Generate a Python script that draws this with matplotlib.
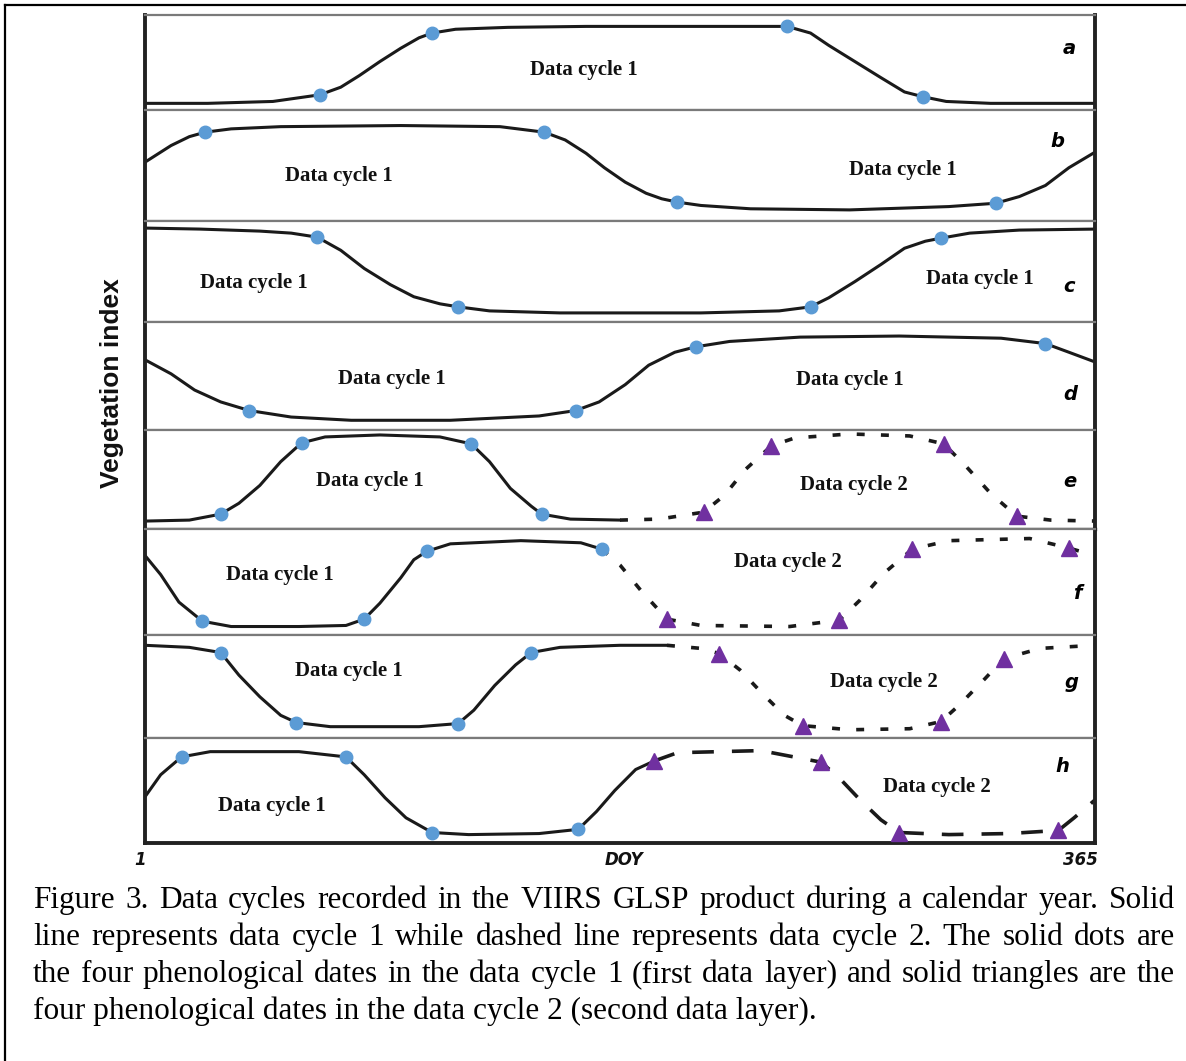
import matplotlib
matplotlib.use('Agg')
import matplotlib.pyplot as plt
from matplotlib.lines import Line2D

# ---- data: DOY vs normalised vegetation index per panel ----
doy_a1 = [1, 25, 50, 68, 76, 83, 91, 99, 106, 111, 120, 140, 170, 200, 230, 247, 256, 263, 273, 283, 292, 299, 308, 325, 365]
vi_a1 = [0.07, 0.07, 0.09, 0.16, 0.24, 0.36, 0.51, 0.65, 0.76, 0.81, 0.85, 0.87, 0.88, 0.88, 0.88, 0.88, 0.81, 0.68, 0.51, 0.34, 0.19, 0.14, 0.09, 0.07, 0.07]
dates_a1 = [68, 111, 247, 299]
dvi_a1 = [0.16, 0.81, 0.88, 0.14]

doy_b1 = [1, 11, 18, 24, 34, 53, 99, 137, 154, 162, 170, 177, 185, 193, 199, 205, 214, 233, 271, 309, 327, 336, 346, 355, 365]
vi_b1 = [0.53, 0.68, 0.76, 0.80, 0.83, 0.85, 0.86, 0.85, 0.80, 0.73, 0.61, 0.48, 0.35, 0.25, 0.20, 0.17, 0.14, 0.11, 0.10, 0.13, 0.16, 0.22, 0.32, 0.48, 0.62]
dates_b1 = [24, 154, 205, 327]
dvi_b1 = [0.80, 0.80, 0.17, 0.16]

doy_c1 = [1, 22, 45, 57, 67, 76, 85, 95, 104, 114, 121, 133, 160, 214, 244, 256, 263, 273, 283, 292, 300, 306, 317, 336, 365]
vi_c1 = [0.93, 0.92, 0.90, 0.88, 0.84, 0.71, 0.53, 0.37, 0.25, 0.18, 0.15, 0.11, 0.09, 0.09, 0.11, 0.15, 0.24, 0.40, 0.57, 0.73, 0.80, 0.83, 0.88, 0.91, 0.92]
dates_c1 = [67, 121, 256, 306]
dvi_c1 = [0.84, 0.15, 0.15, 0.83]

doy_d1 = [1, 11, 20, 30, 41, 57, 80, 118, 152, 166, 175, 185, 194, 204, 212, 225, 252, 290, 329, 346, 355, 365]
vi_d1 = [0.65, 0.52, 0.37, 0.26, 0.18, 0.12, 0.09, 0.09, 0.13, 0.18, 0.26, 0.42, 0.60, 0.72, 0.77, 0.82, 0.86, 0.87, 0.85, 0.80, 0.72, 0.63]
dates_d1 = [41, 166, 212, 346]
dvi_d1 = [0.18, 0.18, 0.77, 0.80]

doy_e1 = [1, 18, 30, 37, 45, 53, 61, 70, 91, 114, 126, 133, 141, 149, 153, 164, 183]
vi_e1 = [0.08, 0.09, 0.15, 0.26, 0.44, 0.68, 0.87, 0.93, 0.95, 0.93, 0.86, 0.68, 0.41, 0.23, 0.15, 0.10, 0.09]
dates_e1 = [30, 61, 126, 153]
dvi_e1 = [0.15, 0.87, 0.86, 0.15]
doy_e2 = [183, 198, 215, 223, 231, 241, 250, 271, 294, 307, 315, 325, 335, 348, 365]
vi_e2 = [0.09, 0.10, 0.17, 0.34, 0.60, 0.84, 0.92, 0.96, 0.94, 0.86, 0.65, 0.36, 0.13, 0.09, 0.08]
dates_e2 = [215, 241, 307, 335]
dvi_e2 = [0.17, 0.84, 0.86, 0.13]

doy_f1 = [1, 7, 14, 23, 34, 60, 78, 85, 91, 99, 104, 109, 118, 145, 168, 176]
vi_f1 = [0.75, 0.57, 0.31, 0.13, 0.08, 0.08, 0.09, 0.15, 0.30, 0.54, 0.71, 0.79, 0.86, 0.89, 0.87, 0.81]
dates_f1 = [23, 85, 109, 176]
dvi_f1 = [0.13, 0.15, 0.79, 0.81]
doy_f2 = [176, 183, 191, 201, 214, 248, 267, 275, 284, 295, 309, 340, 355, 365]
vi_f2 = [0.81, 0.66, 0.42, 0.15, 0.09, 0.08, 0.14, 0.33, 0.58, 0.81, 0.89, 0.91, 0.82, 0.75]
dates_f2 = [201, 267, 295, 355]
dvi_f2 = [0.15, 0.14, 0.81, 0.82]

doy_g1 = [1, 18, 30, 37, 45, 53, 59, 72, 106, 121, 127, 135, 143, 149, 160, 183, 201]
vi_g1 = [0.90, 0.88, 0.83, 0.61, 0.40, 0.22, 0.15, 0.11, 0.11, 0.14, 0.27, 0.51, 0.71, 0.83, 0.88, 0.90, 0.90]
dates_g1 = [30, 59, 121, 149]
dvi_g1 = [0.83, 0.15, 0.14, 0.83]
doy_g2 = [201, 214, 221, 229, 238, 246, 253, 271, 294, 306, 313, 323, 330, 344, 365]
vi_g2 = [0.90, 0.87, 0.82, 0.66, 0.42, 0.22, 0.12, 0.08, 0.09, 0.16, 0.32, 0.58, 0.77, 0.87, 0.90]
dates_g2 = [221, 253, 306, 330]
dvi_g2 = [0.82, 0.12, 0.16, 0.77]

doy_h1 = [1, 7, 15, 26, 60, 78, 85, 93, 101, 111, 125, 152, 167, 174, 181, 189, 196]
vi_h1 = [0.44, 0.65, 0.82, 0.87, 0.87, 0.82, 0.65, 0.43, 0.24, 0.10, 0.08, 0.09, 0.13, 0.30, 0.50, 0.70, 0.78]
dates_h1 = [15, 78, 111, 167]
dvi_h1 = [0.82, 0.82, 0.10, 0.13]
doy_h2 = [196, 205, 237, 260, 267, 275, 283, 290, 309, 332, 351, 357, 365]
vi_h2 = [0.78, 0.86, 0.88, 0.77, 0.62, 0.41, 0.22, 0.10, 0.08, 0.09, 0.12, 0.24, 0.41]
dates_h2 = [196, 260, 290, 351]
dvi_h2 = [0.78, 0.77, 0.10, 0.12]

panel_letters = ['a', 'b', 'c', 'd', 'e', 'f', 'g', 'h']
panel_heights = [95, 111, 101, 108, 99, 106, 103, 105]

caption_lines = [
    "Figure 3. Data cycles recorded in the VIIRS GLSP product during a calendar year. Solid",
    "line represents data cycle 1 while dashed line represents data cycle 2. The solid dots are",
    "the four phenological dates in the data cycle 1 (first data layer) and solid triangles are the",
    "four phenological dates in the data cycle 2 (second data layer).",
]

cycle1 = [
    (doy_a1, vi_a1, dates_a1, dvi_a1),
    (doy_b1, vi_b1, dates_b1, dvi_b1),
    (doy_c1, vi_c1, dates_c1, dvi_c1),
    (doy_d1, vi_d1, dates_d1, dvi_d1),
    (doy_e1, vi_e1, dates_e1, dvi_e1),
    (doy_f1, vi_f1, dates_f1, dvi_f1),
    (doy_g1, vi_g1, dates_g1, dvi_g1),
    (doy_h1, vi_h1, dates_h1, dvi_h1),
]
cycle2 = {
    4: (doy_e2, vi_e2, dates_e2, dvi_e2),
    5: (doy_f2, vi_f2, dates_f2, dvi_f2),
    6: (doy_g2, vi_g2, dates_g2, dvi_g2),
    7: (doy_h2, vi_h2, dates_h2, dvi_h2),
}

# label positions in axes fraction (x, y) for each panel
cycle_labels = [
    [(0.462, 0.42, 1)],
    [(0.204, 0.405, 1), (0.798, 0.46, 1)],
    [(0.115, 0.386, 1), (0.879, 0.426, 1)],
    [(0.26, 0.47, 1), (0.742, 0.46, 1)],
    [(0.237, 0.485, 1), (0.746, 0.444, 2)],
    [(0.142, 0.566, 1), (0.677, 0.689, 2)],
    [(0.215, 0.65, 1), (0.778, 0.544, 2)],
    [(0.134, 0.352, 1), (0.834, 0.533, 2)],
]
letter_pos = [(0.973, 0.65), (0.96, 0.72), (0.973, 0.35), (0.974, 0.333),
              (0.974, 0.475), (0.981, 0.387), (0.975, 0.534), (0.966, 0.733)]

W, H = 1186, 1061
fig = plt.figure(figsize=(W / 100, H / 100), dpi=100)
gs = fig.add_gridspec(8, 1, height_ratios=panel_heights, hspace=0,
                      left=145 / W, right=1095 / W, top=1 - 15 / H, bottom=1 - 843 / H)

dot_color = '#5b9bd5'
tri_color = '#7030a0'
label_font = dict(family='Liberation Serif', fontweight='bold', fontsize=15, color='#111111')
letter_font = dict(family='DejaVu Sans', fontweight='bold', style='italic', fontsize=14)

for i in range(8):
    ax = fig.add_subplot(gs[i])
    ax.set_xlim(1, 365)
    ax.set_ylim(0, 1)
    ax.set_xticks([])
    ax.set_yticks([])
    for side in ('left', 'right'):
        ax.spines[side].set_linewidth(2.8)
        ax.spines[side].set_color('#222222')
    for side in ('top', 'bottom'):
        ax.spines[side].set_linewidth(1.6)
        ax.spines[side].set_color('#7a7a7a')
    if i == 7:
        ax.spines['bottom'].set_color('#222222')
        ax.spines['bottom'].set_linewidth(2.8)
    if i == 4:
        ax.spines['bottom'].set_color('#333333')
        ax.spines['bottom'].set_linewidth(2.4)

    x1, y1, dx1, dy1 = cycle1[i]
    ax.plot(x1, y1, color='#1a1a1a', linewidth=2.2, solid_joinstyle='round',
            solid_capstyle='round', zorder=2)
    ax.plot(dx1, dy1, 'o', color=dot_color, markersize=9, zorder=4)
    if i in cycle2:
        x2, y2, dx2, dy2 = cycle2[i]
        dash = (0, (6, 5)) if i == 7 else (0, (2.2, 4.5))
        ax.plot(x2, y2, color='#1a1a1a', linewidth=2.6, linestyle=dash, zorder=2)
        ax.plot(dx2, dy2, '^', color=tri_color, markersize=11, zorder=4)

    for (lx, ly, n) in cycle_labels[i]:
        ax.text(lx, ly, 'Data cycle %d' % n, transform=ax.transAxes,
                ha='center', va='center', **label_font)
    ax.text(letter_pos[i][0], letter_pos[i][1], panel_letters[i], transform=ax.transAxes,
            ha='center', va='center', **letter_font)

# axis texts
fig.text(112 / W, 1 - 383 / H, 'Vegetation index', rotation=90, ha='center', va='center',
         family='Liberation Sans', fontweight='bold', fontsize=19, color='#111111')
tick_font = dict(family='DejaVu Sans', fontweight='bold', style='italic', fontsize=12,
                 color='#111111', ha='center', va='center')
fig.text(140 / W, 1 - 860 / H, '1', **tick_font)
fig.text(624 / W, 1 - 860 / H, 'DOY', **tick_font)
fig.text(1080 / W, 1 - 860 / H, '365', **tick_font)

# outer frame (cropped on the right and bottom)
fig.add_artist(Line2D([5 / W, 5 / W], [0, 1 - 5 / H], color='black', linewidth=1.6))
fig.add_artist(Line2D([5 / W, 1], [1 - 5 / H, 1 - 5 / H], color='black', linewidth=1.6))

# caption, justified between x0 and x1
cap_font = dict(family='Liberation Serif', fontsize=22.5, color='black')
x0, x1 = 33, 1175
baselines = [908, 945, 982, 1019]
renderer = fig.canvas.get_renderer()
for k, line in enumerate(caption_lines):
    yb = 1 - baselines[k] / H
    words = line.split(' ')
    if k == len(caption_lines) - 1:
        fig.text(x0 / W, yb, line, ha='left', va='baseline', **cap_font)
        continue
    arts = [fig.text(0, yb, w, ha='left', va='baseline', **cap_font) for w in words]
    widths = [a.get_window_extent(renderer).width for a in arts]
    gap = (x1 - x0 - sum(widths)) / (len(words) - 1)
    xp = x0
    for a, wd in zip(arts, widths):
        a.set_x(xp / W)
        xp += wd + gap

fig.savefig('out.png', dpi=100)
